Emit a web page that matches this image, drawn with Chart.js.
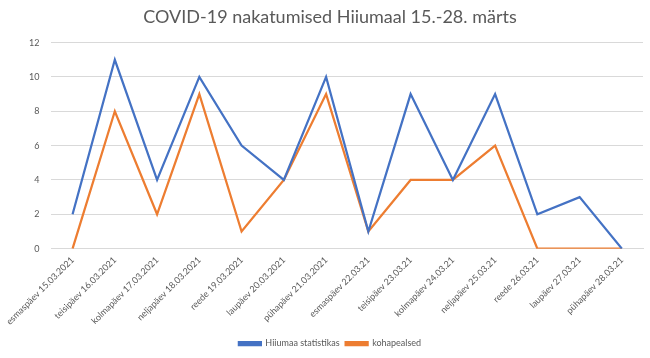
<!DOCTYPE html>
<html>
<head>
<meta charset="utf-8">
<script src="https://cdn.jsdelivr.net/npm/chart.js@4"></script>
<style>
html,body{margin:0;padding:0;background:#fff;}
#wrap{width:650px;height:358px;position:relative;}
</style>
</head>
<body>
<div id="wrap"><canvas id="c" width="650" height="358"></canvas></div>
<script>
const categories = [
  "esmaspäev 15.03.2021","teisipäev 16.03.2021","kolmapäev 17.03.2021","neljapäev 18.03.2021",
  "reede 19.03.2021","laupäev 20.03.2021","pühapäev 21.03.2021","esmaspäev 22.03.21",
  "teisipäev 23.03.21","kolmapäev 24.03.21","neljapäev 25.03.21","reede 26.03.21",
  "laupäev 27.03.21","pühapäev 28.03.21"
];
const hiiumaaStatistikas = [2, 11, 4, 10, 6, 4, 10, 1, 9, 4, 9, 2, 3, 0];
const kohapealsed = [0, 8, 2, 9, 1, 4, 9, 1, 4, 4, 6, 0, 0, 0];
const yTicks = [0, 2, 4, 6, 8, 10, 12];

const FONT = "Lato, 'Open Sans', sans-serif";
Chart.defaults.font.family = FONT;
Chart.defaults.color = "#595959";

new Chart(document.getElementById("c"), {
  type: "line",
  data: {
    labels: categories,
    datasets: [
      { label: "Hiiumaa statistikas", data: hiiumaaStatistikas, borderColor: "#4472C4", backgroundColor: "#4472C4", borderWidth: 2.25, pointRadius: 0, tension: 0 },
      { label: "kohapealsed", data: kohapealsed, borderColor: "#ED7D31", backgroundColor: "#ED7D31", borderWidth: 2.25, pointRadius: 0, tension: 0 }
    ]
  },
  options: {
    responsive: false,
    animation: false,
    layout: { padding: { left: 17, right: 7, top: 6, bottom: 0 } },
    plugins: {
      title: { display: true, text: "COVID-19 nakatumised Hiiumaal 15.-28. märts", font: { size: 18, weight: "normal", family: FONT }, color: "#595959", padding: { top: 0, bottom: 15 } },
      legend: { position: "bottom", labels: { boxWidth: 22, boxHeight: 3, font: { size: 9 }, color: "#595959", padding: 6 } },
      tooltip: { enabled: false }
    },
    scales: {
      x: {
        offset: true,
        grid: { display: false, drawTicks: false },
        border: { display: true, color: "#d9d9d9" },
        ticks: { minRotation: 45, maxRotation: 45, autoSkip: false, font: { size: 9 }, color: "#595959", padding: 6 }
      },
      y: {
        min: 0, max: 12,
        afterBuildTicks: (s) => { s.ticks = yTicks.map(v => ({ value: v })); },
        grid: { color: "#d9d9d9", drawTicks: false },
        border: { display: false },
        ticks: { font: { size: 9 }, color: "#595959", padding: 12 }
      }
    }
  }
});
</script>
</body>
</html>
